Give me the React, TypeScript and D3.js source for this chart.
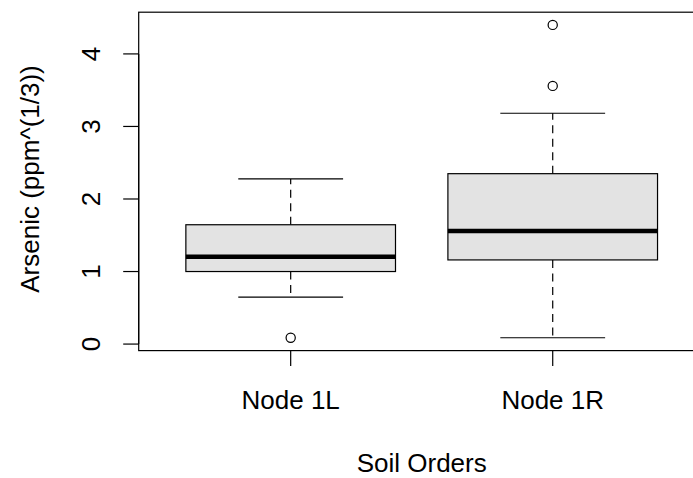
import React from "react";
import * as d3 from "d3";

const categories = ["Node 1L", "Node 1R"];
const whiskerLow = [0.648, 0.087];
const q1 = [1.0, 1.16];
const median = [1.204, 1.559];
const q3 = [1.645, 2.349];
const whiskerHigh = [2.276, 3.182];
const outliers = [[0.087], [3.559, 4.4]];
const yTicks = [0, 1, 2, 3, 4];

const W = 693;
const H = 478;
const FONT = "'Liberation Sans', Arial, sans-serif";

export default function App() {
  const x = d3.scaleLinear().domain([0.42, 2.58]).range([138.7, 704.7]);
  const y = d3.scaleLinear().domain([-0.09, 4.575]).range([350.6, 12.2]);
  const boxHalf = 0.4;
  const capHalf = 0.2;
  const tick = 15.5;
  const [x0, x1] = x.range();
  const [yb, yt] = y.range();

  return (
    <svg
      width={W}
      height={H}
      style={{ position: "absolute", left: 0, top: 0, background: "#fff" }}
      fontFamily={FONT}
    >
      <rect x={0} y={0} width={W} height={H} fill="#fff" />
      {categories.map((c, i) => {
        const cx = x(i + 1);
        const bl = x(i + 1 - boxHalf);
        const br = x(i + 1 + boxHalf);
        const cl = x(i + 1 - capHalf);
        const cr = x(i + 1 + capHalf);
        return (
          <g key={c}>
            <line x1={cx} x2={cx} y1={y(q1[i])} y2={y(whiskerLow[i])} stroke="#000" strokeWidth={1.2} strokeDasharray="8,5.5" />
            <line x1={cx} x2={cx} y1={y(q3[i])} y2={y(whiskerHigh[i])} stroke="#000" strokeWidth={1.2} strokeDasharray="8,5.5" />
            <line x1={cl} x2={cr} y1={y(whiskerLow[i])} y2={y(whiskerLow[i])} stroke="#000" strokeWidth={1.2} />
            <line x1={cl} x2={cr} y1={y(whiskerHigh[i])} y2={y(whiskerHigh[i])} stroke="#000" strokeWidth={1.2} />
            <rect
              x={bl}
              y={y(q3[i])}
              width={br - bl}
              height={y(q1[i]) - y(q3[i])}
              fill="#e3e3e3"
              stroke="#000"
              strokeWidth={1.2}
            />
            <line x1={bl} x2={br} y1={y(median[i])} y2={y(median[i])} stroke="#000" strokeWidth={4.5} />
            {outliers[i].map((o, j) => (
              <circle key={j} cx={cx} cy={y(o)} r={4.6} fill="none" stroke="#000" strokeWidth={1.2} />
            ))}
          </g>
        );
      })}
      <rect x={x0} y={yt} width={x1 - x0} height={yb - yt} fill="none" stroke="#000" strokeWidth={1.2} />
      {/* y axis */}
      <line x1={x0} x2={x0} y1={y(yTicks[0])} y2={y(yTicks[yTicks.length - 1])} stroke="#000" strokeWidth={1.2} />
      {yTicks.map((t) => (
        <g key={t}>
          <line x1={x0 - tick} x2={x0} y1={y(t)} y2={y(t)} stroke="#000" strokeWidth={1.2} />
          <text transform={`translate(100,${y(t)}) rotate(-90)`} textAnchor="middle" fontSize={26} fill="#000">
            {t}
          </text>
        </g>
      ))}
      {/* x axis */}
      {categories.map((c, i) => (
        <g key={c}>
          <line x1={x(i + 1)} x2={x(i + 1)} y1={yb} y2={yb + tick} stroke="#000" strokeWidth={1.2} />
          <text x={x(i + 1)} y={409.3} textAnchor="middle" fontSize={26} fill="#000">
            {c}
          </text>
        </g>
      ))}
      <text x={(x0 + x1) / 2} y={471.7} textAnchor="middle" fontSize={26} fill="#000">
        Soil Orders
      </text>
      <text transform={`translate(38.5,${(y(0) + y(4)) / 2 - 20}) rotate(-90)`} textAnchor="middle" fontSize={26} fill="#000">
        Arsenic (ppm^(1/3))
      </text>
    </svg>
  );
}
